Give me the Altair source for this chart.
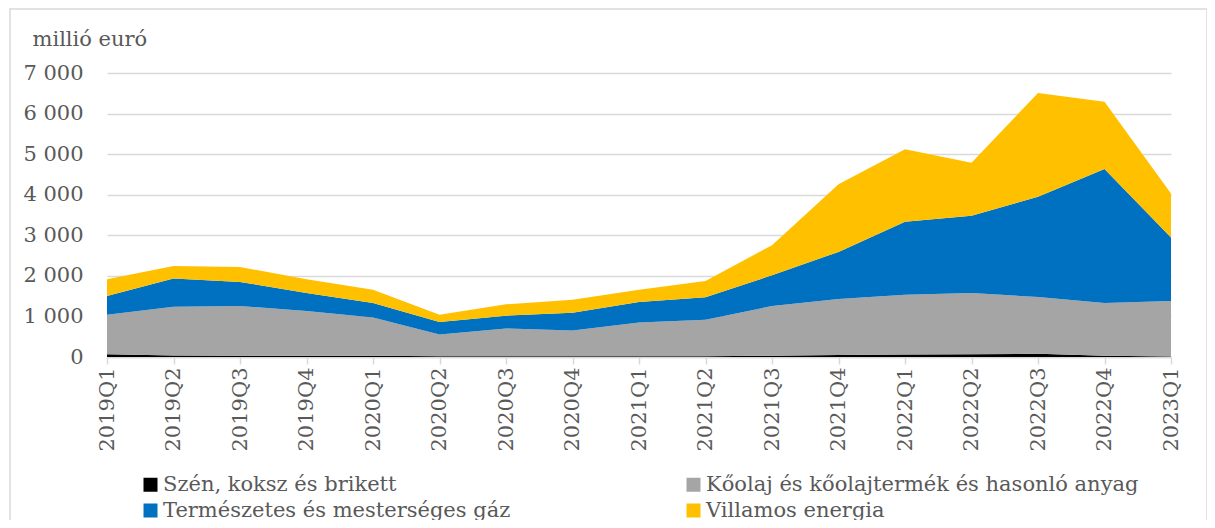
import altair as alt
import pandas as pd

quarters = ["2019Q1", "2019Q2", "2019Q3", "2019Q4", "2020Q1", "2020Q2", "2020Q3", "2020Q4",
            "2021Q1", "2021Q2", "2021Q3", "2021Q4", "2022Q1", "2022Q2", "2022Q3", "2022Q4", "2023Q1"]

series_names = ["Szén, koksz és brikett",
                "Kőolaj és kőolajtermék és hasonló anyag",
                "Természetes és mesterséges gáz",
                "Villamos energia"]
series_colors = ["#000000", "#A5A5A5", "#0070C0", "#FFC000"]

coal = [70, 40, 30, 30, 30, 20, 20, 20, 20, 20, 30, 50, 60, 70, 80, 30, 10]
oil = [973, 1200, 1227, 1103, 946, 536, 684, 635, 833, 899, 1227, 1379, 1477, 1507, 1398, 1300, 1369]
gas = [460, 692, 593, 445, 354, 304, 314, 437, 502, 551, 757, 1162, 1795, 1903, 2472, 3304, 1567]
elec = [412, 313, 370, 337, 330, 183, 280, 322, 305, 404, 742, 1664, 1788, 1310, 2555, 1656, 1087]

y_ticks = [0, 1000, 2000, 3000, 4000, 5000, 6000, 7000]

rows = []
for idx, (name, vals) in enumerate(zip(series_names, [coal, oil, gas, elec])):
    for q, v in zip(quarters, vals):
        rows.append({"quarter": q, "series": name, "value": v, "idx": idx})
df = pd.DataFrame(rows)

# legend is filled column by column: column 1 = coal, gas; column 2 = oil, electricity
legend_order = [series_names[0], series_names[2], series_names[1], series_names[3]]
legend_colors = [series_colors[0], series_colors[2], series_colors[1], series_colors[3]]

FONT = "DejaVu Serif"
TXT = "#595959"
FS = 21

areas = alt.Chart(df).mark_area(opacity=1).encode(
    x=alt.X("quarter:N", sort=quarters,
            scale=alt.Scale(type="point", padding=0),
            axis=alt.Axis(title=None, labelAngle=270, labelAlign="right", labelBaseline="middle",
                          labelFont=FONT, labelFontSize=FS, labelColor=TXT, labelPadding=3,
                          tickColor="#d9d9d9", tickSize=7, tickWidth=1.5,
                          domainColor="#d9d9d9", domainWidth=1.5, grid=False)),
    y=alt.Y("value:Q", stack="zero",
            scale=alt.Scale(domain=[0, 7000], nice=False),
            axis=alt.Axis(values=y_ticks, title="millió euró", titleAngle=0, titleAlign="left",
                          titleBaseline="alphabetic", titleX=-75, titleY=-28,
                          titleFont=FONT, titleFontSize=FS, titleFontWeight="normal", titleColor=TXT,
                          labelExpr="replace(format(datum.value, ','), ',', ' ')",
                          labelFont=FONT, labelFontSize=FS, labelColor=TXT, labelPadding=24,
                          ticks=False, domain=False,
                          gridColor="#d9d9d9", gridWidth=1.5)),
    color=alt.Color("series:N", sort=legend_order,
                    scale=alt.Scale(domain=legend_order, range=legend_colors),
                    legend=alt.Legend(title=None, orient="none", legendX=33, legendY=401,
                                      columns=2, columnPadding=172, rowPadding=4,
                                      symbolType="square", symbolSize=196, symbolStrokeWidth=0,
                                      symbolOpacity=1, labelFont=FONT, labelFontSize=FS,
                                      labelColor=TXT, labelOffset=2, labelLimit=600)),
    order=alt.Order("idx:Q", sort="ascending"),
)

border = alt.Chart(pd.DataFrame({"a": [0]})).mark_rect(
    fill=None, stroke="#d9d9d9", strokeWidth=1.5
).encode(
    x=alt.value(-97), x2=alt.value(1100), y=alt.value(-64), y2=alt.value(700)
)

chart = alt.layer(border, areas).properties(
    width=1064, height=284,
    padding={"left": 99, "top": 65, "right": 36, "bottom": 163},
    autosize=alt.AutoSizeParams(type="none"),
).configure_view(stroke=None)

chart.save("out.html", embed_options={"renderer": "svg", "actions": False})
